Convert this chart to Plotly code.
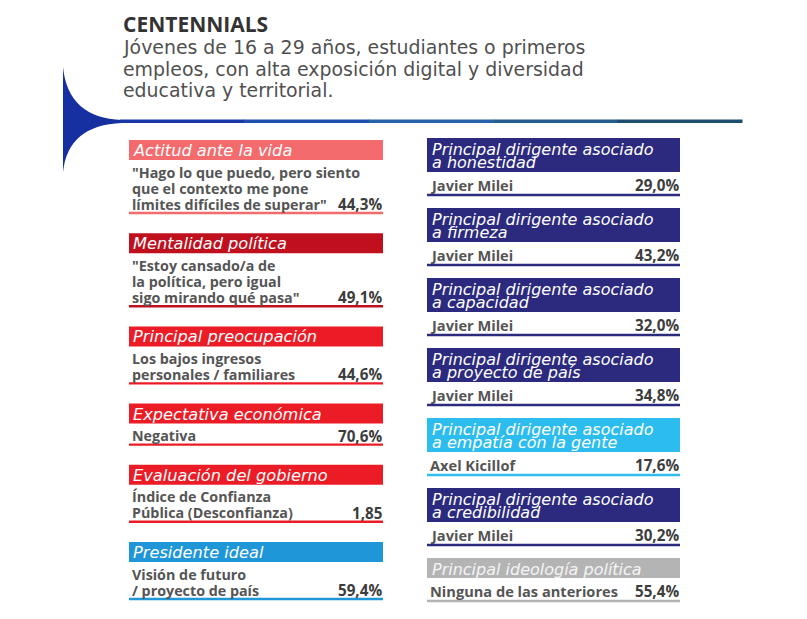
import plotly.graph_objects as go

# --- data ---------------------------------------------------------------
title = "CENTENNIALS"
subtitle = [
    "Jóvenes de 16 a 29 años, estudiantes o primeros",
    "empleos, con alta exposición digital y diversidad",
    "educativa y territorial.",
]

left_titles = ["Actitud ante la vida", "Mentalidad política", "Principal preocupación",
               "Expectativa económica", "Evaluación del gobierno", "Presidente ideal"]
left_answers = [
    ['"Hago lo que puedo, pero siento', 'que el contexto me pone', 'límites difíciles de superar"'],
    ['"Estoy cansado/a de', 'la política, pero igual', 'sigo mirando qué pasa"'],
    ["Los bajos ingresos", "personales / familiares"],
    ["Negativa"],
    ["Índice de Confianza", "Pública (Desconfianza)"],
    ["Visión de futuro", "/ proyecto de país"],
]
left_values = ["44,3%", "49,1%", "44,6%", "70,6%", "1,85", "59,4%"]
left_colors = ["#f46b6e", "#c0101e", "#ec1c26", "#ec1c26", "#ec1c26", "#1f96d8"]

right_titles = [
    ["Principal dirigente asociado", "a honestidad"],
    ["Principal dirigente asociado", "a firmeza"],
    ["Principal dirigente asociado", "a capacidad"],
    ["Principal dirigente asociado", "a proyecto de país"],
    ["Principal dirigente asociado", "a empatía con la gente"],
    ["Principal dirigente asociado", "a credibilidad"],
    ["Principal ideología política"],
]
right_answers = ["Javier Milei", "Javier Milei", "Javier Milei", "Javier Milei",
                 "Axel Kicillof", "Javier Milei", "Ninguna de las anteriores"]
right_values = ["29,0%", "43,2%", "32,0%", "34,8%", "17,6%", "30,2%", "55,4%"]
right_colors = ["#2c2a7e", "#2c2a7e", "#2c2a7e", "#2c2a7e", "#2cbdee", "#2c2a7e", "#b4b4b4"]

# --- layout helpers -----------------------------------------------------
W, H = 807, 619
FONT = "Open Sans"
HEAD_FONT = "DejaVu Sans"
TXT = "#555555"
VAL = "#3d3d3d"
LX0, LX1 = 129, 383
RX0, RX1 = 427, 680

shapes = []
annotations = []


def text(x, y, s, size, color, bold=False, italic=False, anchor="left", family=FONT):
    if bold:
        s = f"<b>{s}</b>"
    if italic:
        s = f"<i>{s}</i>"
    annotations.append(dict(x=x, y=y, xref="x", yref="y", text=s, showarrow=False,
                            xanchor=anchor, yanchor="middle",
                            font=dict(family=family, size=size, color=color)))


def rect(x0, y0, x1, y1, color):
    shapes.append(dict(type="rect", xref="x", yref="y", x0=x0, x1=x1, y0=y0, y1=y1,
                       fillcolor=color, line=dict(width=0), layer="below"))


# header
text(121, 24, title, 21, "#333333", bold=True)
for i, line in enumerate(subtitle):
    text(121, 47 + i * 21.5, line, 18.9, "#505050", family=HEAD_FONT)

# left blue swoosh + rule
shapes.append(dict(type="path", xref="x", yref="y", layer="below",
                   path="M 63,67 Q 68,118 122,120 L 122,123 Q 68,125 63,172 Z",
                   fillcolor="#1630a2", line=dict(width=0)))
rule_colors = ["#1a37a8", "#1f4fae", "#2763a8", "#245c8e", "#1e4e6e"]
seg = (742 - 120) / len(rule_colors)
for i, c in enumerate(rule_colors):
    rect(120 + i * seg, 119.5, 120 + (i + 1) * seg + 0.5, 123, c)

# left column
top = 140
for t, lines, v, c in zip(left_titles, left_answers, left_values, left_colors):
    rect(LX0, top, LX1, top + 20, c)
    text(LX0 + 2, top + 10.5, t, 16.2, "white", italic=True, family=HEAD_FONT)
    y = top + 32
    for j, ln in enumerate(lines):
        text(LX0 + 1, y + j * 16, ln, 14.3, TXT, bold=True)
    last = y + (len(lines) - 1) * 16
    text(LX1 + 1, last, v, 15.2, VAL, bold=True, anchor="right")
    ul = last + 9
    rect(LX0, ul - 1.2, LX1, ul + 1.2, c)
    top = ul + 20.2

# right column
top = 138
for t, name, v, c in zip(right_titles, right_answers, right_values, right_colors):
    h = 34 if len(t) == 2 else 20
    rect(RX0, top, RX1, top + h, c)
    fc = "white" if c != "#b4b4b4" else "#f4f4f4"
    for j, ln in enumerate(t):
        text(RX0 + 3, top + 11 + j * 13.5, ln, 16, fc, italic=True, family=HEAD_FONT)
    by = top + h + 13
    text(RX0 + 1, by, name, 14.6, TXT, bold=True)
    text(RX1 + 1, by, v, 15.2, VAL, bold=True, anchor="right")
    ul = by + 10
    rect(RX0, ul - 1.2, RX1, ul + 1.2, c)
    top = ul + 13

fig = go.Figure(go.Scatter(x=[], y=[]))
fig.update_layout(
    width=W, height=H, margin=dict(l=0, r=0, t=0, b=0),
    paper_bgcolor="white", plot_bgcolor="white", showlegend=False,
    xaxis=dict(range=[0, W], visible=False, fixedrange=True),
    yaxis=dict(range=[H, 0], visible=False, fixedrange=True),
    shapes=shapes, annotations=annotations,
)
fig.write_html("out.html", config={"displayModeBar": False},
               post_script="document.body.style.margin='0';")
